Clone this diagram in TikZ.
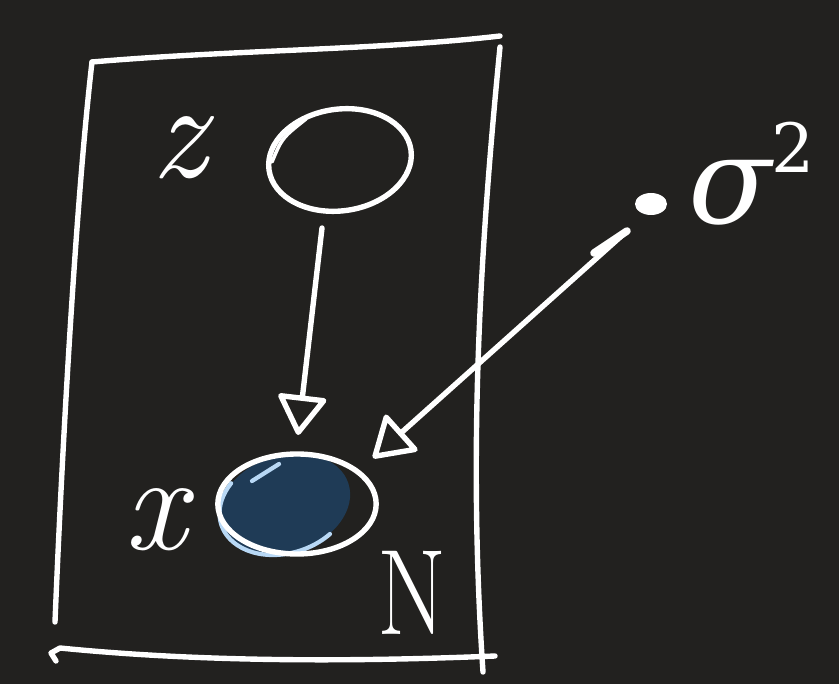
\documentclass[tikz,border=0pt]{standalone}
\usepackage{fontspec}
\newfontfamily\gkfont{DejaVu Serif}
\usetikzlibrary{arrows.meta,shapes.geometric,calc}
\definecolor{bg}{RGB}{34,33,31}
\definecolor{xfill}{RGB}{31,59,86}
\definecolor{xhl}{RGB}{184,216,245}
\begin{document}
\begin{tikzpicture}[x=0.03cm,y=-0.03cm,line cap=round,line join=round,
  pen/.style={draw=white,line width=4.6pt},
  lbl/.style={text=white,inner sep=0pt,font=\fontsize{118}{118}\selectfont\itshape},
  arr/.style={pen,-{Triangle[open,length=36pt,width=44pt,round]}},
  varnode/.style={ellipse,draw=white,line width=4.6pt,inner sep=0pt}]
\fill[bg] (0,0) rectangle (839,684);
\useasboundingbox (0,0) rectangle (839,684);
% plate
\draw[pen] (92,62) .. controls (230,50) and (380,50) .. (500,36);
\draw[pen] (92,62) .. controls (76,200) and (62,450) .. (55,622);
\draw[pen] (500,47) .. controls (480,250) and (468,450) .. (483,672);
\draw[pen] (56,661) -- (51,653) -- (60,648) .. controls (200,662) and (350,662) .. (495,656);
% latent z
\node[varnode,minimum width=4.3cm,minimum height=3.05cm,rotate=8] (znode) at (340,160) {};
\draw[draw=white,line width=3pt] (272,162) .. controls (282,138) .. (306,119);
\node[lbl] (zl) at (179,148) {z};
% observed x
\node[ellipse,fill=xfill,minimum width=4.0cm,minimum height=2.9cm,rotate=18,inner sep=0pt] (xfillnode) at (285,504) {};
\begin{scope}[shift={(285,504)},rotate=18]
  \draw[draw=xhl,line width=3.6pt] (60:67 and 49) arc[start angle=60,end angle=228,x radius=67,y radius=49];
\end{scope}
\draw[draw=xhl,line width=3.6pt] (252,481) -- (279,464);
\node[varnode,minimum width=4.75cm,minimum height=3.0cm] (xnode) at (297,504) {};
\node[lbl] (xl) at (156,520) {x};
\node[lbl,font=\fontsize{104}{104}\selectfont,xscale=0.82] (nl) at (412,593) {N};
% sigma^2
\node[ellipse,fill=white,minimum width=0.96cm,minimum height=0.66cm,inner sep=0pt] (sdot) at (651,204) {};
\node[lbl,font=\fontsize{104}{104}\selectfont] (sl) at (752,174) {{\gkfont\itshape σ}\raisebox{0.42em}{\fontsize{58}{58}\selectfont\gkfont 2}};
\coordinate (s0) at ($(sdot.center)+(-24,27)$);
% arrows
\draw[arr] ($(znode.center)+(-18,68)$) -- ($(xnode.center)+(1,-69)$);
\draw[arr] (s0) -- ($(xnode.center)+(76,-46)$);
\draw[draw=white,line width=6.5pt] ($(s0)+(-33,22)$) -- (s0);
\end{tikzpicture}
\end{document}
